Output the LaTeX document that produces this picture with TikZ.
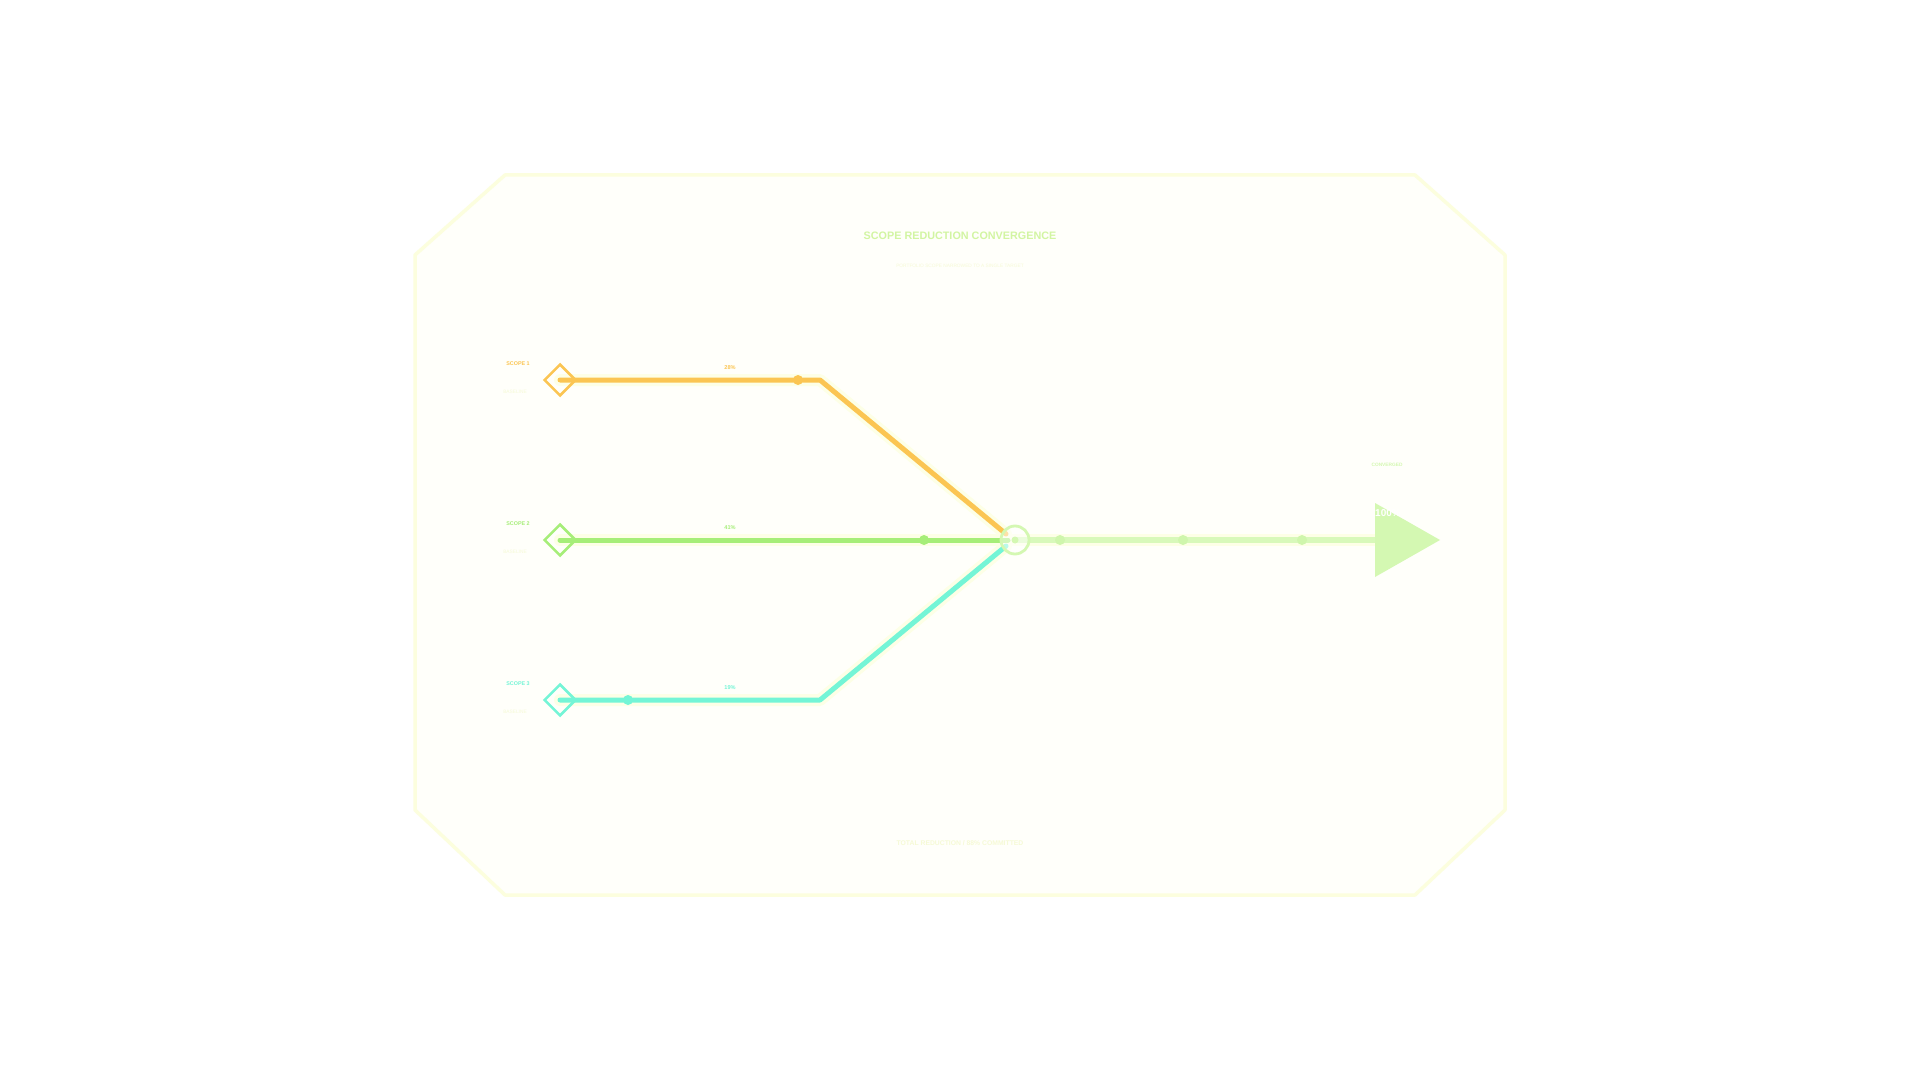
\documentclass[tikz,border=0pt]{standalone}
\usepackage{fontspec}
\setmainfont{Liberation Sans}
\usetikzlibrary{shapes.geometric}
\definecolor{frame}{HTML}{FCFEDE}
\definecolor{bgfill}{HTML}{FFFFFA}
\definecolor{orangeL}{HTML}{FBC552}
\definecolor{greenL}{HTML}{A6EE78}
\definecolor{cyanL}{HTML}{74F5D6}
\definecolor{outL}{HTML}{D8F9BA}
\definecolor{outDot}{HTML}{CFF6AC}
\definecolor{triC}{HTML}{D4F8B2}
\definecolor{titleC}{HTML}{D2F5A2}
\definecolor{faintC}{HTML}{F6FAD6}
\definecolor{glowC}{HTML}{FDFFE6}
\tikzset{
  scopebox/.style={diamond, draw=#1, line width=1.25pt, fill=none, inner sep=0pt, minimum width=16pt, minimum height=16pt},
  glow/.style={line width=6pt, draw=glowC, line cap=round, line join=round},
  track/.style={line width=2.5pt, draw=#1, line cap=round, line join=round},
  dotmark/.style={circle, fill=#1, inner sep=0pt, minimum size=5pt},
  scopelabel/.style={font=\fontsize{2.7pt}{3pt}\selectfont\bfseries, text=#1, inner sep=0pt},
  pctlabel/.style={font=\fontsize{2.8pt}{3pt}\selectfont\bfseries, text=#1, inner sep=0pt},
  faintlabel/.style={font=\fontsize{2.4pt}{3pt}\selectfont, text=faintC, inner sep=0pt}
}
\begin{document}
\begin{tikzpicture}[x=0.5pt,y=-0.5pt]
\useasboundingbox (0,0) rectangle (1920,1080);
\fill[white] (0,0) rectangle (1920,1080);
% frame
\draw[line width=1.75pt, draw=frame, fill=bgfill, line join=round]
  (505,175)--(1415,175)--(1505,255)--(1505,810)--(1415,895)--(505,895)--(415,810)--(415,255)--cycle;
% title
\node[font=\fontsize{5.4pt}{6pt}\selectfont\bfseries, text=titleC, inner sep=0pt] (title) at (960,236) {SCOPE REDUCTION CONVERGENCE};
\node[font=\fontsize{2.4pt}{3pt}\selectfont, text=faintC, inner sep=0pt] (subtitle) at (960,266) {PORTFOLIO SCOPE NARROWED TO A SINGLE TARGET};
\node[font=\fontsize{3.4pt}{4pt}\selectfont\bfseries, text=faintC, inner sep=0pt] (footer) at (960,843) {TOTAL REDUCTION / 88\% COMMITTED};
% coordinates
\coordinate (b1) at (820,380);
\coordinate (b3) at (820,700);
\coordinate (hubin) at (1008,540);
\coordinate (hubin1) at (1006,534);
\coordinate (hubin3) at (1006,546);
\coordinate (tbase) at (1375,540);
% glows
\draw[glow] (560,380) -- (b1) -- (hubin1);
\draw[glow] (560,540) -- (hubin);
\draw[glow] (560,700) -- (b3) -- (hubin3);
\draw[glow] (hubin) -- (tbase);
% tracks
\draw[track=orangeL] (560,380) -- (b1) -- (hubin1);
\draw[track=greenL] (560,540) -- (hubin);
\draw[track=cyanL] (560,700) -- (b3) -- (hubin3);
\draw[line width=3pt, draw=outL] (1015,540) -- (tbase);
% hub
\node[circle, draw=triC, line width=1.4pt, fill=white, fill opacity=0.5, minimum size=14pt, inner sep=0pt] (hub) at (1015,540) {};
\node[dotmark=triC, minimum size=3.5pt] (hubdot) at (1015,540) {};
% diamonds
\node[scopebox=orangeL] (s1) at (560,380) {};
\node[scopebox=greenL] (s2) at (560,540) {};
\node[scopebox=cyanL] (s3) at (560,700) {};
% dots
\node[dotmark=orangeL] (d1) at (798,380) {};
\node[dotmark=greenL] (d2) at (924,540) {};
\node[dotmark=cyanL] (d3) at (628,700) {};
\node[dotmark=outDot] (o1) at (1060,540) {};
\node[dotmark=outDot] (o2) at (1183,540) {};
\node[dotmark=outDot] (o3) at (1302,540) {};
% triangle
\fill[triC] (1375,503) -- (1440,540) -- (1375,577) -- cycle;
\node[font=\fontsize{2.4pt}{3pt}\selectfont\bfseries, text=triC, inner sep=0pt] (conv) at (1387,465) {CONVERGED};
\node[font=\fontsize{5pt}{6pt}\selectfont\bfseries, text=white, inner sep=0pt] (convval) at (1388,513) {100\%};
% labels
\node[scopelabel=orangeL] (l1) at (518,364) {SCOPE 1};
\node[scopelabel=greenL] (l2) at (518,524) {SCOPE 2};
\node[scopelabel=cyanL] (l3) at (518,684) {SCOPE 3};
\node[faintlabel] (f1) at (515,392) {BASELINE};
\node[faintlabel] (f2) at (515,552) {BASELINE};
\node[faintlabel] (f3) at (515,712) {BASELINE};
\node[pctlabel=orangeL] (p1) at (730,368) {28\%};
\node[pctlabel=greenL] (p2) at (730,528) {41\%};
\node[pctlabel=cyanL] (p3) at (730,688) {19\%};
\end{tikzpicture}
\end{document}
